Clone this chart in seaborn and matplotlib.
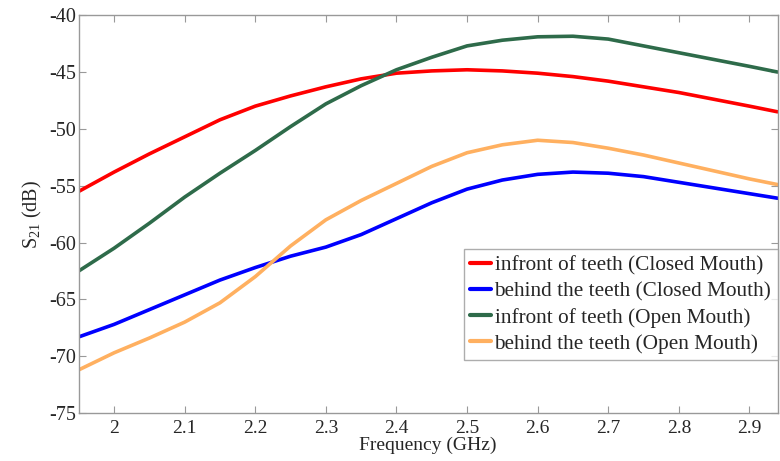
import pandas as pd
import seaborn as sns
import matplotlib
matplotlib.use('Agg')
import matplotlib.pyplot as plt

freq = [1.95, 2.0, 2.05, 2.1, 2.15, 2.2, 2.25, 2.3, 2.35, 2.4, 2.45, 2.5,
        2.55, 2.6, 2.65, 2.7, 2.75, 2.8, 2.85, 2.9, 2.94]
front_closed = [-55.5, -53.8, -52.2, -50.7, -49.2, -48.0, -47.1, -46.3, -45.6, -45.1, -44.9, -44.8,
                -44.9, -45.1, -45.4, -45.8, -46.3, -46.8, -47.4, -48.0, -48.5]
behind_closed = [-68.3, -67.2, -65.9, -64.6, -63.3, -62.2, -61.2, -60.4, -59.3, -57.9, -56.5, -55.3,
                 -54.5, -54.0, -53.8, -53.9, -54.2, -54.7, -55.2, -55.7, -56.1]
front_open = [-62.5, -60.5, -58.3, -56.0, -53.9, -51.9, -49.8, -47.8, -46.2, -44.8, -43.7, -42.7,
              -42.2, -41.9, -41.85, -42.1, -42.7, -43.3, -43.9, -44.5, -45.0]
behind_open = [-71.2, -69.7, -68.4, -67.0, -65.3, -63.0, -60.3, -58.0, -56.3, -54.8, -53.3, -52.1,
               -51.4, -51.0, -51.2, -51.7, -52.3, -53.0, -53.7, -54.4, -54.9]

labels = ['infront of teeth (Closed Mouth)', 'behind the teeth (Closed Mouth)',
          'infront of teeth (Open Mouth)', 'behind the teeth (Open Mouth)']
colors = ['#ff0000', '#0000ff', '#2e6b4a', '#ffb060']

sns.set_style('ticks')
plt.rcParams['font.family'] = ['Liberation Serif', 'DejaVu Serif']
plt.rcParams['mathtext.fontset'] = 'custom'
plt.rcParams['mathtext.rm'] = 'Liberation Serif'
plt.rcParams['axes.unicode_minus'] = False

d = pd.DataFrame({'freq': freq * 4,
                  's21': front_closed + behind_closed + front_open + behind_open,
                  'case': sum([[l] * len(freq) for l in labels], [])})

fig = plt.figure(figsize=(7.8, 4.61), dpi=100)
ax = fig.add_axes([0.101, 0.104, 0.896, 0.863])
sns.lineplot(data=d, x='freq', y='s21', hue='case', hue_order=labels,
             palette=colors, linewidth=2.6, ax=ax)
for ln in ax.get_lines():
    ln.set_solid_joinstyle('round')

ax.set_xlim(1.95, 2.94)
ax.set_ylim(-75, -40)
ax.set_xticks([2, 2.1, 2.2, 2.3, 2.4, 2.5, 2.6, 2.7, 2.8, 2.9])
ax.set_xticklabels(['2', '2.1', '2.2', '2.3', '2.4', '2.5', '2.6', '2.7', '2.8', '2.9'])
ax.set_yticks(range(-75, -39, 5))
ax.tick_params(direction='in', length=5, color='#999999', labelsize=14.5, top=True, right=True)
ax.tick_params(axis='x', pad=5, labelsize=14)
ax.tick_params(axis='y', pad=2)
for s in ax.spines.values():
    s.set_color('#999999')
    s.set_linewidth(1)
ax.set_xlabel('Frequency (GHz)', fontsize=14, labelpad=0)
ax.set_ylabel('S$_{\\mathregular{21}}$ (dB)', fontsize=14.5, labelpad=4)

leg = ax.legend(loc='lower right', bbox_to_anchor=(1.0, 0.133), fontsize=15.3, frameon=True,
                fancybox=False, handlelength=1.0, handletextpad=0.15, borderpad=0.3,
                labelspacing=0.3, borderaxespad=0.0)
leg.get_frame().set_edgecolor('#999999')
leg.get_frame().set_linewidth(1)
for h in leg.get_lines():
    h.set_linewidth(3)

fig.savefig('out.png', dpi=100)
